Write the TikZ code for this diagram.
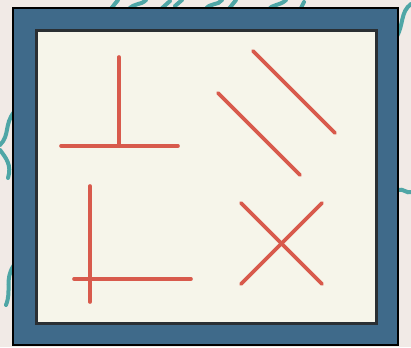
\documentclass[tikz,border=0pt]{standalone}
\definecolor{bgc}{HTML}{F1EAE6}
\definecolor{teal1}{HTML}{4FA6A6}
\definecolor{frameblue}{HTML}{3F6A8A}
\definecolor{cream}{HTML}{F6F5EA}
\definecolor{redline}{HTML}{D85A4C}
\definecolor{darkedge}{HTML}{2A2F33}
\begin{document}
\begin{tikzpicture}[x=1pt,y=-1pt,
  squiggle/.style={teal1, line width=4pt, line cap=round},
  redstroke/.style={redline, line width=3.6pt, line cap=round}]
\useasboundingbox (0,0) rectangle (411,347);
\fill[bgc] (0,0) rectangle (411,347);
% background squiggles
\draw[squiggle] (110,10) -- (118,0);
\draw[squiggle] (128,10) .. controls (135,2) and (140,6) .. (146,0);
\draw[squiggle] (160,10) -- (170,1);
\draw[squiggle] (175,6) -- (182,0);
\draw[squiggle] (205,10) .. controls (210,2) and (218,6) .. (222,0);
\draw[squiggle] (228,10) -- (236,0);
\draw[squiggle] (268,10) .. controls (272,4) and (280,6) .. (286,0);
\draw[squiggle] (300,10) -- (304,2);
\draw[squiggle] (396,38) .. controls (404,25) and (400,12) .. (411,4);
\draw[squiggle] (398,190) .. controls (403,188) and (407,194) .. (411,192);
\draw[squiggle] (14,112) .. controls (4,125) and (10,135) .. (0,145);
\draw[squiggle] (0,150) .. controls (6,158) and (12,165) .. (8,178);
\draw[squiggle] (14,265) .. controls (4,280) and (12,290) .. (6,305);
% frame
\draw[frameblue, fill=frameblue] (13,8) rectangle (398,345);
\draw[black, line width=2.5pt] (13,8) rectangle (398,345);
\draw[darkedge, fill=cream, line width=3pt] (36,31) rectangle (376,323);
% perpendicular
\coordinate (pt) at (119,57);
\coordinate (pf) at (119,146);
\coordinate (pl) at (61,146);
\coordinate (pr) at (178,146);
\draw[redstroke] (pt) -- (pf);
\draw[redstroke] (pl) -- (pr);
% parallel
\coordinate (a1) at (253,51);
\coordinate (a2) at (335,133);
\coordinate (b1) at (218,93);
\coordinate (b2) at (300,175);
\draw[redstroke] (a1) -- (a2);
\draw[redstroke] (b1) -- (b2);
% corner
\coordinate (lt) at (90,186);
\coordinate (lb) at (90,302);
\coordinate (ll) at (74,279);
\coordinate (lr) at (191,279);
\draw[redstroke] (lt) -- (lb);
\draw[redstroke] (ll) -- (lr);
% cross
\coordinate (x1) at (241,203);
\coordinate (x2) at (322,284);
\coordinate (x3) at (322,203);
\coordinate (x4) at (241,284);
\draw[redstroke] (x1) -- (x2);
\draw[redstroke] (x3) -- (x4);
\end{tikzpicture}
\end{document}
